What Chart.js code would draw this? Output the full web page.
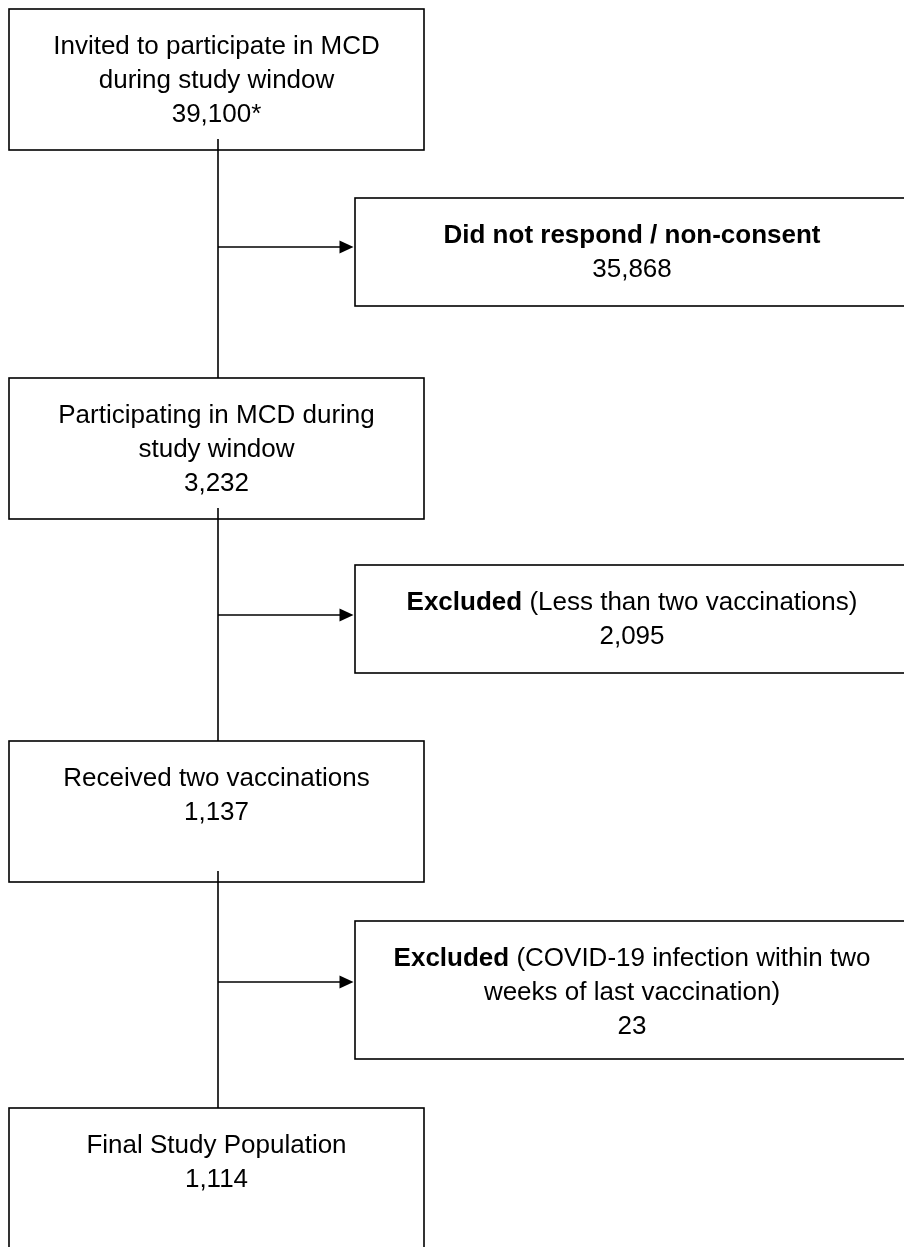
<!DOCTYPE html>
<html>
<head>
<meta charset="utf-8">
<script src="https://cdn.jsdelivr.net/npm/chart.js@4.4.1/dist/chart.umd.min.js"></script>
<style>
html,body{margin:0;padding:0;background:#fff;overflow:hidden}
#wrap{width:904px;height:1247px;position:relative}
</style>
</head>
<body>
<div id="wrap"><canvas id="c" width="904" height="1247"></canvas></div>
<script>
// ---- data (flow stages) ----
const stageLabels = [
  ["Invited to participate in MCD", "during study window"],
  ["Participating in MCD during", "study window"],
  ["Received two vaccinations"],
  ["Final Study Population"]
];
const stageCounts = ["39,100*", "3,232", "1,137", "1,114"];

const exclusionTitles = ["Did not respond / non-consent", "Excluded", "Excluded"];
const exclusionDetails = [
  [],
  ["(Less than two vaccinations)"],
  ["(COVID-19 infection within two", "weeks of last vaccination)"]
];
const exclusionCounts = ["35,868", "2,095", "23"];

// ---- layout (axis units) ----
const axisWidth = 904, axisHeight = 1247;
const spineX = 218;
const stageBoxLeft = 9, stageBoxRight = 424, stageBoxHeight = 141;
const stageBoxTops = [9, 378, 741, 1108];
const sideBoxLeft = 355, sideBoxRight = 909;
const sideBoxTops = [198, 565, 921];
const sideBoxHeights = [108, 108, 138];
const arrowYs = [247, 615, 982];
const firstBaseline = 45, lineStep = 34, spineOverlap = 11;

const FONT_FAMILY = '"Liberation Sans", Arial, Helvetica, sans-serif';
const FONT_SIZE = 26;
const INK = '#000';
const LINE_W = 1.6;

const flowPlugin = {
  id: 'flow',
  afterDatasetsDraw(chart) {
    const ctx = chart.ctx;
    const xs = chart.scales.x, ys = chart.scales.y;
    const X = v => xs.getPixelForValue(v);
    const Y = v => ys.getPixelForValue(v);
    ctx.save();
    ctx.strokeStyle = INK;
    ctx.fillStyle = INK;
    ctx.lineWidth = LINE_W;

    // spine segments
    for (let i = 0; i < stageBoxTops.length - 1; i++) {
      ctx.beginPath();
      ctx.moveTo(X(spineX), Y(stageBoxTops[i] + stageBoxHeight - spineOverlap));
      ctx.lineTo(X(spineX), Y(stageBoxTops[i + 1]));
      ctx.stroke();
    }
    // arrows
    arrowYs.forEach(ay => {
      const tip = X(sideBoxLeft - 1.5);
      const base = tip - 14;
      ctx.beginPath();
      ctx.moveTo(X(spineX), Y(ay));
      ctx.lineTo(base + 1, Y(ay));
      ctx.stroke();
      ctx.beginPath();
      ctx.moveTo(tip, Y(ay));
      ctx.lineTo(base, Y(ay) - 6.5);
      ctx.lineTo(base, Y(ay) + 6.5);
      ctx.closePath();
      ctx.fill();
    });

    // boxes
    const box = (l, t, r, b) => {
      ctx.fillStyle = '#fff';
      ctx.fillRect(X(l), Y(t), X(r) - X(l), Y(b) - Y(t));
      ctx.strokeRect(X(l), Y(t), X(r) - X(l), Y(b) - Y(t));
      ctx.fillStyle = INK;
    };
    ctx.textBaseline = 'alphabetic';
    const regular = FONT_SIZE + 'px ' + FONT_FAMILY;
    const bold = 'bold ' + FONT_SIZE + 'px ' + FONT_FAMILY;

    stageBoxTops.forEach((t, i) => {
      box(stageBoxLeft, t, stageBoxRight, t + stageBoxHeight);
      const cx = X((stageBoxLeft + stageBoxRight) / 2);
      const lines = stageLabels[i].concat([stageCounts[i]]);
      ctx.font = regular;
      ctx.textAlign = 'center';
      lines.forEach((s, k) => ctx.fillText(s, cx, Y(t + firstBaseline + k * lineStep)));
    });
    // redraw spine overlaps inside boxes (the connector pokes into the box above)
    for (let i = 0; i < stageBoxTops.length - 1; i++) {
      ctx.beginPath();
      ctx.moveTo(X(spineX), Y(stageBoxTops[i] + stageBoxHeight - spineOverlap));
      ctx.lineTo(X(spineX), Y(stageBoxTops[i] + stageBoxHeight));
      ctx.stroke();
    }

    sideBoxTops.forEach((t, i) => {
      box(sideBoxLeft, t, sideBoxRight, t + sideBoxHeights[i]);
      const cx = X((sideBoxLeft + sideBoxRight) / 2);
      const details = exclusionDetails[i];
      // first line: bold title + optional first detail
      ctx.font = bold;
      const bw = ctx.measureText(exclusionTitles[i]).width;
      let rest = details.length ? ' ' + details[0] : '';
      ctx.font = regular;
      const rw = ctx.measureText(rest).width;
      let x0 = cx - (bw + rw) / 2;
      const y0 = Y(t + firstBaseline);
      ctx.textAlign = 'left';
      ctx.font = bold;
      ctx.fillText(exclusionTitles[i], x0, y0);
      ctx.font = regular;
      if (rest) ctx.fillText(rest, x0 + bw, y0);
      ctx.textAlign = 'center';
      const more = details.slice(1).concat([exclusionCounts[i]]);
      more.forEach((s, k) => ctx.fillText(s, cx, Y(t + firstBaseline + (k + 1) * lineStep)));
    });
    ctx.restore();
  }
};

new Chart(document.getElementById('c'), {
  type: 'scatter',
  data: {
    datasets: [{
      label: 'stages',
      data: stageBoxTops.map(t => ({ x: spineX, y: t + stageBoxHeight / 2 })),
      pointRadius: 0,
      showLine: false
    }]
  },
  options: {
    responsive: false,
    animation: false,
    devicePixelRatio: 1,
    layout: { padding: 0 },
    plugins: { legend: { display: false }, tooltip: { enabled: false } },
    scales: {
      x: { type: 'linear', min: 0, max: axisWidth, display: false },
      y: { type: 'linear', min: 0, max: axisHeight, reverse: true, display: false }
    }
  },
  plugins: [flowPlugin]
});
</script>
</body>
</html>
